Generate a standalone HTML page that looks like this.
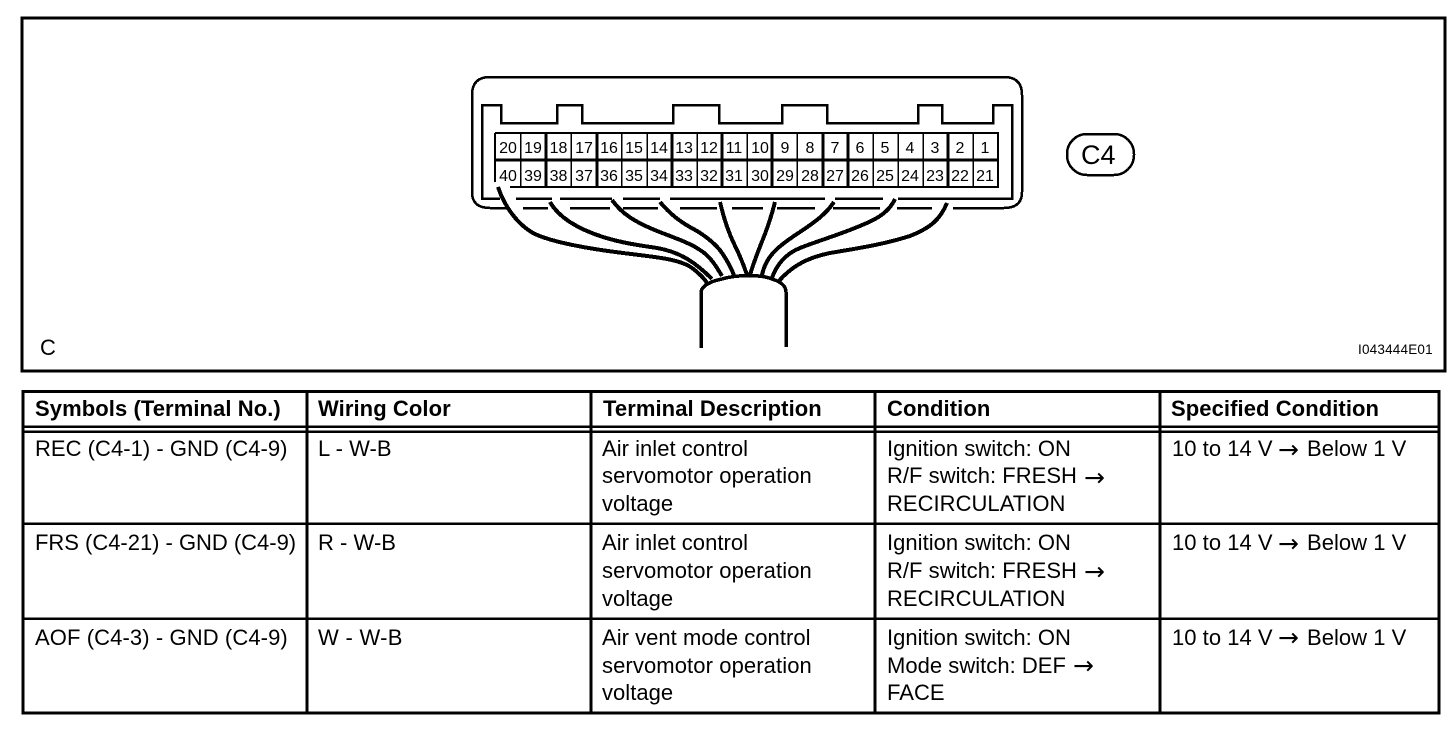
<!DOCTYPE html>
<html><head><meta charset="utf-8"><style>
html,body{margin:0;padding:0;background:#fff;width:1456px;height:732px;overflow:hidden}
svg{display:block;shape-rendering:crispEdges}
text{font-family:"Liberation Sans",sans-serif;fill:#000}
.n{font-size:16px;text-anchor:middle}
.t{font-size:22px;letter-spacing:.03px}
.h{font-size:22px;font-weight:bold;letter-spacing:.08px}
.a{font-family:"DejaVu Sans",sans-serif;font-size:25px}
</style></head><body>
<svg width="1456" height="732" viewBox="0 0 1456 732" xmlns="http://www.w3.org/2000/svg">
<rect x="22" y="18" width="1423" height="353" fill="none" stroke="#000" stroke-width="3"/>
<!-- connector -->
<path d="M490 208Q472 208 472 192V95Q472 77 490 77H1004Q1022 77 1022 95V192Q1022 208 1004 208H953M932 208H897M880 208H833M815 208H777M763 208H732M717 208H680M658 208H623M610 208H570M548 208H523M508 208H490" fill="none" stroke="#000" stroke-width="2.500"/>
<path d="M500 198.500H482V105H501V123H557V105H582V123H673V105H719V123H782V105H827V123H918V105H942V123H993V105H1012V198.500H898M883 198.500H835M825 198.500H670M660 198.500H623M612 198.500H560M552 198.500H516" fill="none" stroke="#000" stroke-width="2.500"/>
<path d="M495 133H998V187H510M495 133V182" fill="none" stroke="#000" stroke-width="2"/>
<path d="M495 160H998" fill="none" stroke="#000" stroke-width="3"/>
<path d="M520.500 133V187M571 133V187M621.500 133V187M647 133V187M697 133V187M747 133V187M797 133V187M873 133V187M898 133V187M923 133V187M973 133V187" fill="none" stroke="#000" stroke-width="1.500"/>
<path d="M546 133V187M597 133V187M672 133V187M722 133V187M772 133V187M823 133V187M848 133V187M948 133V187" fill="none" stroke="#000" stroke-width="3"/>
<g class="n">
<text class="n" x="508" y="153">20</text><text class="n" x="533" y="153">19</text><text class="n" x="558.500" y="153">18</text><text class="n" x="584" y="153">17</text><text class="n" x="609" y="153">16</text><text class="n" x="634" y="153">15</text><text class="n" x="659" y="153">14</text><text class="n" x="684" y="153">13</text><text class="n" x="709" y="153">12</text><text class="n" x="734" y="153">11</text><text class="n" x="760" y="153">10</text><text class="n" x="785" y="153">9</text><text class="n" x="810" y="153">8</text><text class="n" x="835" y="153">7</text><text class="n" x="860" y="153">6</text><text class="n" x="885" y="153">5</text><text class="n" x="910" y="153">4</text><text class="n" x="935" y="153">3</text><text class="n" x="960" y="153">2</text><text class="n" x="985" y="153">1</text>
<text class="n" x="508" y="181">40</text><text class="n" x="533" y="181">39</text><text class="n" x="558.500" y="181">38</text><text class="n" x="584" y="181">37</text><text class="n" x="609" y="181">36</text><text class="n" x="634" y="181">35</text><text class="n" x="659" y="181">34</text><text class="n" x="684" y="181">33</text><text class="n" x="709" y="181">32</text><text class="n" x="734" y="181">31</text><text class="n" x="760" y="181">30</text><text class="n" x="785" y="181">29</text><text class="n" x="810" y="181">28</text><text class="n" x="835" y="181">27</text><text class="n" x="860" y="181">26</text><text class="n" x="885" y="181">25</text><text class="n" x="910" y="181">24</text><text class="n" x="935" y="181">23</text><text class="n" x="960" y="181">22</text><text class="n" x="985" y="181">21</text>
</g>
<!-- wires -->
<g fill="none" stroke="#000" stroke-width="4">
<path d="M498 187C503 202 514 222 533 233C550 242 590 249 623 253C655 257 680 259 692 268C700 274 704 278 707 283"/>
<path d="M550 202C558 216 575 228 603 237C625 244 645 246 657 248C680 252 695 262 712 279"/>
<path d="M612 200C622 214 635 222 657 231C675 238 690 243 700 250C710 256 716 266 722 276"/>
<path d="M660 202C670 214 680 222 697 231C705 236 716 244 722 253C727 260 731 268 734 275"/>
<path d="M720 202C724 220 730 236 736 248C741 258 744 266 747 275"/>
<path d="M775 202C771 218 766 232 761 244C757 254 753 265 750 275"/>
<path d="M834 202C826 214 815 222 800 232C780 245 766 255 762 275"/>
<path d="M895 199C888 214 875 220 855 228C835 236 815 242 800 248C785 254 776 266 772 278"/>
<path d="M947 203C940 220 930 228 910 236C885 244 860 248 830 253C805 258 790 268 778 282"/>
<path d="M701 348V292C702 285 712 281 722 279C735 275 760 274 772 279C782 282 786 287 786 292V347" stroke-width="3.500"/>
</g>
<rect x="1067" y="134" width="67" height="41" rx="20" ry="20" fill="#fff" stroke="#000" stroke-width="2.500"/>
<text x="1081" y="164" font-size="27">C4</text>
<text x="40" y="355" font-size="22">C</text>
<text x="1358" y="354" font-size="13.500" letter-spacing=".2">I043444E01</text>
<!-- table -->
<rect x="23" y="391.500" width="1416" height="321.500" fill="none" stroke="#000" stroke-width="3"/>
<path d="M23 426.500H1439M23 431.500H1439M23 523.500H1439M23 618.500H1439" fill="none" stroke="#000" stroke-width="2.500"/>
<path d="M307 391V713M591 391V713M875 391V713M1160 391V713" fill="none" stroke="#000" stroke-width="3"/>
<text class="h" x="35" y="416">Symbols (Terminal No.)</text>
<text class="h" x="318" y="416">Wiring Color</text>
<text class="h" x="603" y="416">Terminal Description</text>
<text class="h" x="887" y="416">Condition</text>
<text class="h" x="1171" y="416">Specified Condition</text>
<text class="t" x="35" y="456">REC (C4-1) - GND (C4-9)</text>
<text class="t" x="318" y="456">L - W-B</text>
<text class="t" x="602" y="456">Air inlet control</text>
<text class="t" x="602" y="483" style="letter-spacing:.1px">servomotor operation</text>
<text class="t" x="602" y="511">voltage</text>
<text class="t" x="887" y="456">Ignition switch: ON</text>
<text class="t" x="887" y="483">R/F switch: FRESH</text>
<text class="a" x="1084" y="486">→</text>
<text class="t" x="887" y="511">RECIRCULATION</text>
<text class="t" x="1172" y="456">10 to 14 V</text>
<text class="a" x="1278" y="458">→</text>
<text class="t" x="1307" y="456">Below 1 V</text>
<text class="t" x="35" y="550" style="letter-spacing:-.02px">FRS (C4-21) - GND (C4-9)</text>
<text class="t" x="318" y="550">R - W-B</text>
<text class="t" x="602" y="550">Air inlet control</text>
<text class="t" x="602" y="578" style="letter-spacing:.1px">servomotor operation</text>
<text class="t" x="602" y="606">voltage</text>
<text class="t" x="887" y="550">Ignition switch: ON</text>
<text class="t" x="887" y="578">R/F switch: FRESH</text>
<text class="a" x="1084" y="580">→</text>
<text class="t" x="887" y="606">RECIRCULATION</text>
<text class="t" x="1172" y="550">10 to 14 V</text>
<text class="a" x="1278" y="552">→</text>
<text class="t" x="1307" y="550">Below 1 V</text>
<text class="t" x="35" y="645" style="letter-spacing:.1px">AOF (C4-3) - GND (C4-9)</text>
<text class="t" x="318" y="645" style="letter-spacing:.3px">W - W-B</text>
<text class="t" x="602" y="645">Air vent mode control</text>
<text class="t" x="602" y="673" style="letter-spacing:.1px">servomotor operation</text>
<text class="t" x="602" y="700">voltage</text>
<text class="t" x="887" y="645">Ignition switch: ON</text>
<text class="t" x="887" y="673">Mode switch: DEF</text>
<text class="a" x="1073" y="674">→</text>
<text class="t" x="887" y="700">FACE</text>
<text class="t" x="1172" y="645">10 to 14 V</text>
<text class="a" x="1278" y="646">→</text>
<text class="t" x="1307" y="645">Below 1 V</text>
</svg>
</body></html>
